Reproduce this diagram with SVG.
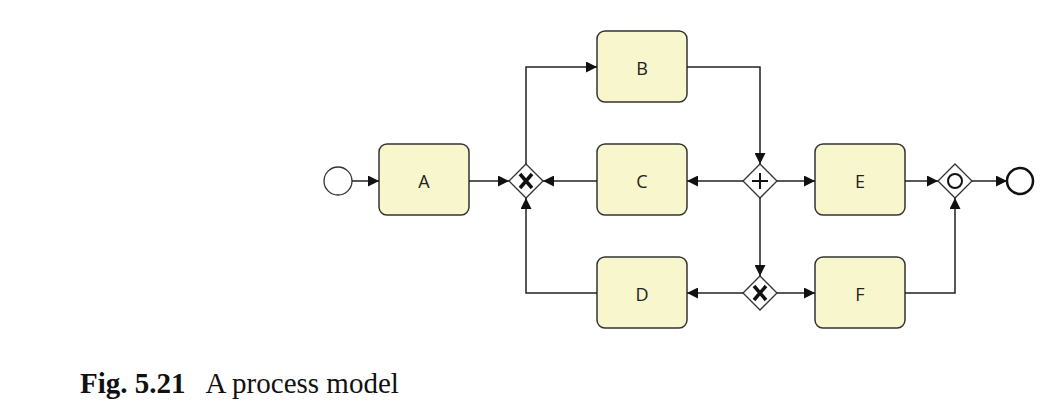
<svg xmlns="http://www.w3.org/2000/svg" width="1060" height="411" viewBox="0 0 1060 411">
<defs>
<marker id="ar" viewBox="0 0 10 10" refX="10" refY="5" markerWidth="12" markerHeight="11" markerUnits="userSpaceOnUse" orient="auto"><path d="M0,0L10,5L0,10z" fill="#111"/></marker>
<style>
.t{fill:#f8f6cc;stroke:#333;stroke-width:1.5}
.l{font-family:"Open Sans","DejaVu Sans",sans-serif;font-size:18px;fill:#222;text-anchor:middle}
.g{fill:#fff;stroke:#333;stroke-width:1.3}
.c{fill:none;stroke:#222;stroke-width:1.5;marker-end:url(#ar)}
.m{font-family:"Liberation Serif",serif;font-size:29px;fill:#111}
</style>
</defs>
<g id="start"><circle cx="338" cy="181" r="14" fill="#fff" stroke="#333" stroke-width="1.3"/></g>
<g id="A"><rect class="t" x="379" y="144" width="90" height="71" rx="8"/><text class="l" x="424" y="188">A</text></g>
<g id="B"><rect class="t" x="597" y="31" width="90" height="71" rx="8"/><text class="l" x="642" y="75">B</text></g>
<g id="C"><rect class="t" x="597" y="144" width="90" height="71" rx="8"/><text class="l" x="642" y="188">C</text></g>
<g id="D"><rect class="t" x="597" y="257" width="90" height="71" rx="8"/><text class="l" x="642" y="301">D</text></g>
<g id="E"><rect class="t" x="815" y="144" width="90" height="71" rx="8"/><text class="l" x="860" y="188">E</text></g>
<g id="F"><rect class="t" x="815" y="257" width="90" height="71" rx="8"/><text class="l" x="860" y="301">F</text></g>
<g id="xor1"><path class="g" d="M526,164L543,181L526,198L509,181z"/><path d="M520,174L532,188M532,174L520,188" stroke="#111" stroke-width="3.5"/></g>
<g id="and1"><path class="g" d="M760,164L777,181L760,198L743,181z"/><path d="M760,173V189M752,181H768" stroke="#111" stroke-width="2"/></g>
<g id="xor2"><path class="g" d="M760,276L777,293L760,310L743,293z"/><path d="M754,286L766,300M766,286L754,300" stroke="#111" stroke-width="3.5"/></g>
<g id="or1"><path class="g" d="M955,164L972,181L955,198L938,181z"/><circle cx="955" cy="181" r="7" fill="none" stroke="#111" stroke-width="2"/></g>
<g id="end"><circle cx="1020" cy="181" r="13" fill="#fff" stroke="#111" stroke-width="2.5"/></g>
<g id="connectors">
<path class="c" d="M352,181H379"/>
<path class="c" d="M469,181H509"/>
<path class="c" d="M526,164V67H597"/>
<path class="c" d="M597,181H543"/>
<path class="c" d="M597,293H526V198"/>
<path class="c" d="M687,67H760V164"/>
<path class="c" d="M743,181H687"/>
<path class="c" d="M777,181H815"/>
<path class="c" d="M760,198V276"/>
<path class="c" d="M743,293H687"/>
<path class="c" d="M777,293H815"/>
<path class="c" d="M905,181H938"/>
<path class="c" d="M905,293H955V198"/>
<path class="c" d="M972,181H1007"/>
</g>
<text class="m" x="80" y="393"><tspan font-weight="bold">Fig. 5.21</tspan><tspan dx="20">A process model</tspan></text>
</svg>
